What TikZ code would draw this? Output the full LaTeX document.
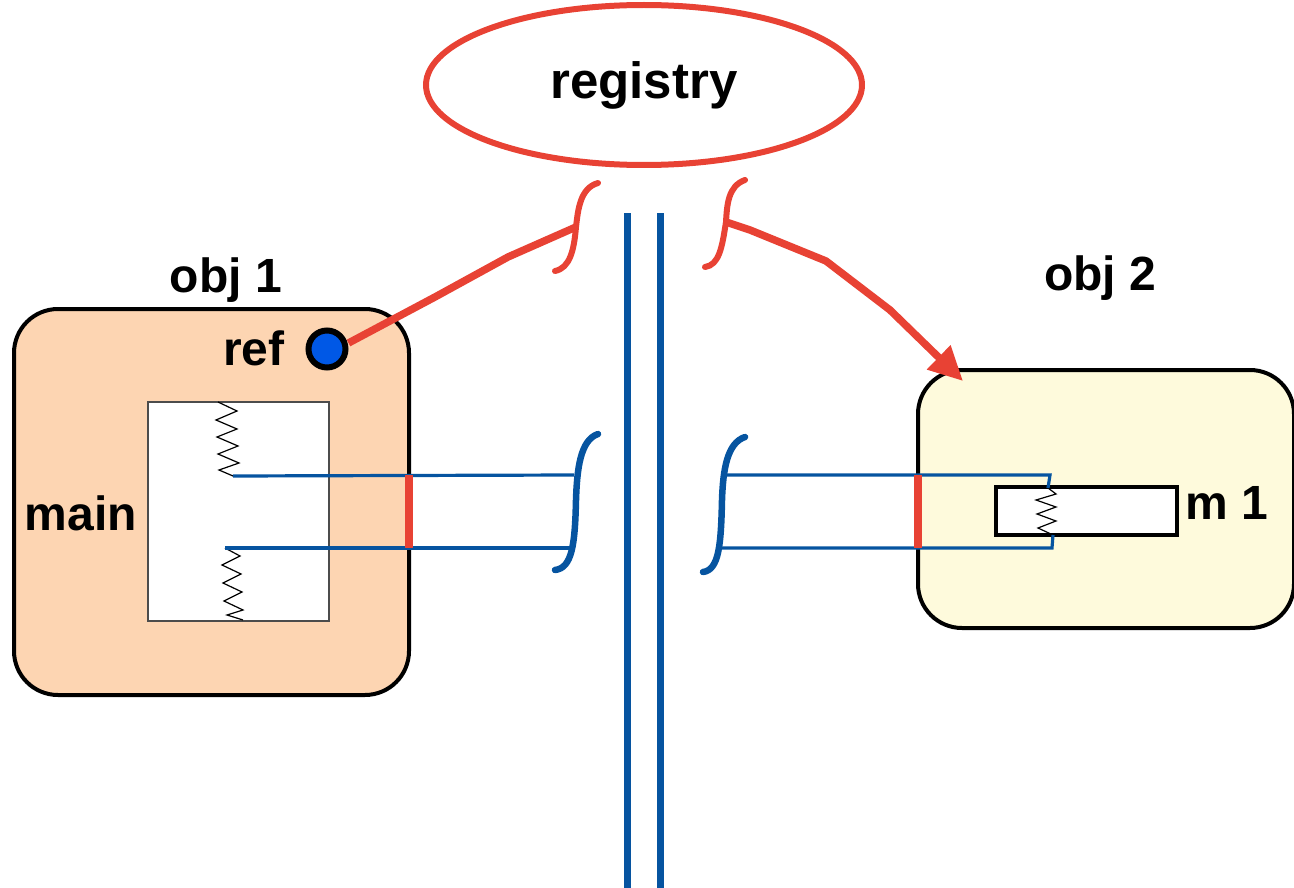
\documentclass[tikz,border=0pt]{standalone}
\usepackage{fontspec}
\setmainfont{Liberation Sans}
\usetikzlibrary{shapes.geometric,arrows.meta}
\definecolor{peach}{RGB}{253,213,178}
\definecolor{cream}{RGB}{254,250,220}
\definecolor{wire}{RGB}{232,66,52}
\definecolor{pipe}{RGB}{6,84,160}
\definecolor{dotblue}{RGB}{0,88,230}
\tikzset{
  lbl/.style={font=\bfseries\fontsize{48}{52}\selectfont, inner sep=0pt},
  objbox/.style={draw=black, line width=4pt, rounded corners=44pt, inner sep=0pt},
  redwire/.style={wire, line width=7.5pt},
  redhook/.style={wire, line width=6pt, line cap=round},
  bluehook/.style={pipe, line width=6.5pt, line cap=round},
  bluewire/.style={pipe, line width=3.2pt},
  spring/.style={black, line width=1.2pt},
  latch/.style={wire, line width=8.5pt},
}
\begin{document}
\begin{tikzpicture}[x=1pt,y=-1pt]
\useasboundingbox (0,0) rectangle (1294,888);

% registry
\node[ellipse, draw=wire, line width=6pt, minimum width=436pt, minimum height=160pt,
      lbl, font=\bfseries\fontsize{51}{55}\selectfont] (reg) at (644,85) {registry};

% channel
\draw[pipe, line width=7pt] (627,213) -- (627,888);
\draw[pipe, line width=7pt] (660,213) -- (660,888);

% objects
\node[objbox, fill=peach, minimum width=395pt, minimum height=386pt] (o1) at (211.5,502) {};
\node[objbox, fill=cream, minimum width=376pt, minimum height=258pt] (o2) at (1106,499) {};
\node[lbl] (o1l) at (226,280) {obj 1};
\node[lbl] (o2l) at (1100,278) {obj 2};

% main frame inside obj 1
\node[draw=black!70, line width=1.6pt, fill=white, minimum width=181pt, minimum height=219pt,
      inner sep=0pt] (mainf) at (238.5,511.5) {};
\node[lbl] (mainl) at (81,513) {main};

% m1 frame inside obj 2
\node[draw=black, line width=3.6pt, fill=white, minimum width=181pt, minimum height=48pt,
      inner sep=0pt] (m1f) at (1086.5,511) {};
\node[lbl] (m1l) at (1227,503) {m 1};

% ref dot
\node[lbl] (refl) at (254,348) {ref};
\node[circle, draw=black, line width=6pt, fill=dotblue, minimum size=37pt, inner sep=0pt] (dot) at (327,349) {};

% springs
\coordinate (s1a) at (218,402);
\coordinate (s1b) at (233,476);
\coordinate (s2a) at (225,548);
\coordinate (s2b) at (243,620);
\draw[spring] (s1a) -- (237,411) -- (216,420) -- (237,429) -- (217,437) -- (238,446)
   -- (218,454) -- (239,463) -- (219,470) -- (s1b);
\draw[spring] (s2a) -- (240,556) -- (222,565) -- (241,574) -- (223,583) -- (242,592)
   -- (224,601) -- (243,610) -- (227,615) -- (s2b);
\coordinate (s3a) at (1048,488);
\coordinate (s3b) at (1053,535);
\draw[spring] (s3a) -- (1056,494) -- (1036,500) -- (1056,507) -- (1037,514) -- (1056,521)
   -- (1038,528) -- (s3b);

% blue bindings
\coordinate (lh1) at (574,475);
\coordinate (lh2) at (574,548);
\coordinate (rh1) at (722,475);
\coordinate (rh2) at (722,548);
\draw[bluewire] (s1b) -- (lh1);
\draw[bluewire] (s2a) -- (lh2);
\draw[bluewire] (rh1) -- (1050,475) -- (s3a);
\draw[bluewire] (rh2) -- (1052,548) -- (s3b);

% blue hooks
\draw[bluehook] (598,434) .. controls (580,440) and (577,470) .. (576,500)
   .. controls (575,545) and (572,568) .. (555,570);
\draw[bluehook] (745,437) .. controls (727,443) and (723,470) .. (722,500)
   .. controls (721,545) and (719,570) .. (703,572);

% red latches on the object edges
\draw[latch] (409,475) -- (409,548);
\draw[latch] (918,475) -- (918,548);

% red hooks
\coordinate (lt) at (576,227);
\coordinate (rt) at (726,222);
\draw[redhook] (598,183) .. controls (580,188) and (578,210) .. (lt)
   .. controls (574,250) and (570,268) .. (555,271);
\draw[redhook] (745,180) .. controls (728,186) and (727,205) .. (rt)
   .. controls (722,248) and (719,265) .. (705,267);

% reference wires
\draw[redwire, line join=round] (dot.east) ++(0,-6) -- (435,297) -- (508,257) -- (lt);
\draw[redwire, line join=round, -{Triangle[length=34pt,width=32pt]}]
   (rt) -- (750,230) -- (826,261) -- (890,310) -- (963,381);
\end{tikzpicture}
\end{document}
